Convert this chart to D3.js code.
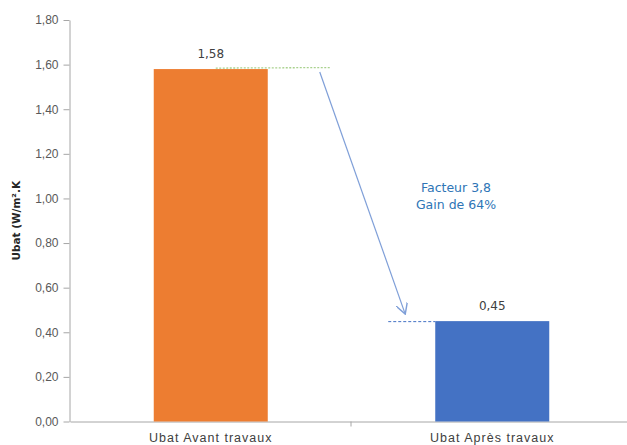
<!DOCTYPE html>
<html><head><meta charset="utf-8">
<script src="https://cdn.jsdelivr.net/npm/d3@7"></script>
<style>
body{margin:0;background:#fff;}
svg{display:block;font-family:"DejaVu Sans",sans-serif;}
</style></head>
<body><svg id="c" width="627" height="445"></svg>
<script>
const categories = ["Ubat Avant travaux", "Ubat Après travaux"];
const values = [1.58, 0.45];
const barColors = ["#ed7d31", "#4472c4"];
const yTicks = [0, 0.2, 0.4, 0.6, 0.8, 1.0, 1.2, 1.4, 1.6, 1.8];
const yTitle = "Ubat (W/m².K";
const annotation = ["Facteur 3,8", "Gain de 64%"];

const svg = d3.select("#c");
const fmt = v => d3.format(".2f")(v).replace(".", ",");

const x = d3.scaleBand().domain(categories).range([70, 633]).padding(0);
const y = d3.scaleLinear().domain([0, 1.8]).range([421.5, 20]);
const barW = x.bandwidth() * 0.405;

// y axis
const ya = svg.append("g").attr("transform", "translate(69.5,0)")
  .call(d3.axisLeft(y).tickValues(yTicks).tickFormat(fmt).tickSize(6).tickSizeOuter(0).tickPadding(5));
ya.select(".domain").attr("stroke", "#a6a6a6");
ya.selectAll(".tick line").attr("stroke", "#a6a6a6");
ya.selectAll(".tick text").attr("fill", "#595959").style("font-size", "12px");

// x axis
const xa = svg.append("g").attr("transform", `translate(0,${y(0)})`)
  .call(d3.axisBottom(x).tickSize(0).tickPadding(12));
xa.select(".domain").attr("stroke", "#a6a6a6");
xa.selectAll(".tick text").attr("fill", "#404040").style("font-size", "12.5px").style("letter-spacing", "1px");
// ticks between categories
xa.selectAll(".sep").data(categories.slice(1)).join("line")
  .attr("x1", d => x(d) - 0.5).attr("x2", d => x(d) - 0.5)
  .attr("y1", 0).attr("y2", 5).attr("stroke", "#a6a6a6");

// bars
svg.selectAll(".bar").data(values).join("rect")
  .attr("x", (d, i) => x(categories[i]) + x.bandwidth() / 2 - barW / 2)
  .attr("width", barW)
  .attr("y", d => y(d))
  .attr("height", d => y(0) - y(d))
  .attr("fill", (d, i) => barColors[i]);

// value labels
svg.selectAll(".lbl").data(values).join("text")
  .attr("x", (d, i) => x(categories[i]) + x.bandwidth() / 2)
  .attr("y", d => y(d) - 11)
  .attr("text-anchor", "middle")
  .attr("fill", "#404040")
  .style("font-size", "12px")
  .text(d => fmt(d));

// dashed helper lines
const c0 = x(categories[0]) + x.bandwidth() / 2;
const c1 = x(categories[1]) + x.bandwidth() / 2;
svg.append("line")
  .attr("x1", c0 + 5).attr("x2", c0 + 120)
  .attr("y1", y(values[0]) - 1).attr("y2", y(values[0]) - 1.5)
  .attr("stroke", "#a9d18e").attr("stroke-width", 1.3).attr("stroke-dasharray", "2,1.5");
svg.append("line")
  .attr("x1", c1 - barW / 2 - 47).attr("x2", c1 - barW / 2)
  .attr("y1", y(values[1]) + 0.5).attr("y2", y(values[1]) + 0.5)
  .attr("stroke", "#4472c4").attr("stroke-width", 1).attr("stroke-dasharray", "3,2");

// arrow
const defs = svg.append("defs");
defs.append("marker").attr("id", "ah").attr("viewBox", "0 0 10 10")
  .attr("refX", 9).attr("refY", 5).attr("markerWidth", 12).attr("markerHeight", 12)
  .attr("markerUnits", "userSpaceOnUse").attr("orient", "auto")
  .append("path").attr("d", "M0,0 L9,5 L0,10").attr("fill", "none").attr("stroke", "#7f9fd8").attr("stroke-width", 1.2);
svg.append("line")
  .attr("x1", c0 + 109).attr("y1", y(values[0]) + 3)
  .attr("x2", c1 - 87).attr("y2", y(values[1]) - 7)
  .attr("stroke", "#7f9fd8").attr("stroke-width", 1.2).attr("marker-end", "url(#ah)");

// annotation
svg.append("text").attr("x", 456).attr("y", 192).attr("text-anchor", "middle")
  .attr("fill", "#2e75b6").style("font-size", "12.5px")
  .selectAll("tspan").data(annotation).join("tspan")
  .attr("x", 456).attr("dy", (d, i) => i ? 16.5 : 0).text(d => d);

// y title
svg.append("text")
  .attr("transform", `translate(20,${(y(0) + y(1.8)) / 2}) rotate(-90)`)
  .attr("text-anchor", "middle").attr("font-weight", "bold")
  .attr("fill", "#262626").style("font-size", "10.5px")
  .text(yTitle);
</script></body></html>
